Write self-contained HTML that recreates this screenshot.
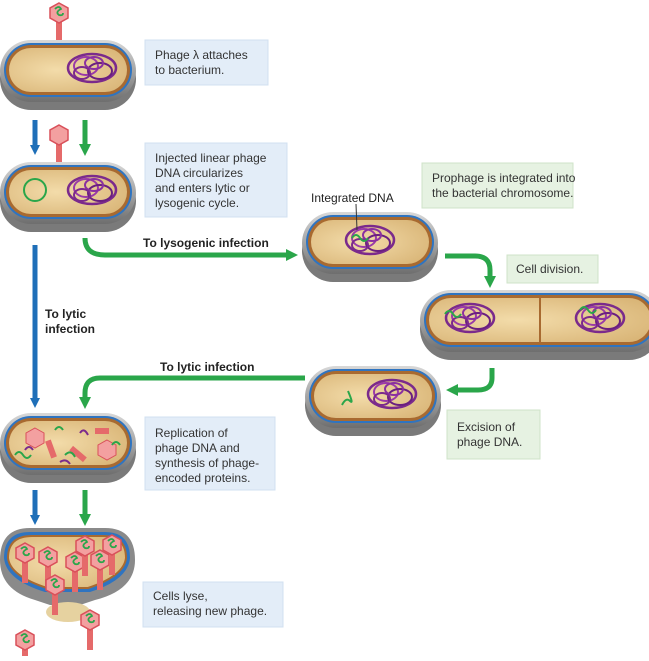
<!DOCTYPE html>
<html><head><style>
body{margin:0;background:#fff;}
.t{font-family:"Liberation Sans",sans-serif;}
</style></head><body>
<svg width="649" height="656" viewBox="0 0 649 656" xmlns="http://www.w3.org/2000/svg">
<defs>
<linearGradient id="gr" x1="0" y1="0" x2="0" y2="1"><stop offset="0" stop-color="#d8d8d8"/><stop offset="0.6" stop-color="#9a9a9a"/><stop offset="1" stop-color="#6e6e6e"/></linearGradient>
<radialGradient id="tan" cx="0.4" cy="0.5" r="0.7"><stop offset="0" stop-color="#f3dcaa"/><stop offset="1" stop-color="#d9b577"/></radialGradient>
<marker id="ab" markerWidth="10" markerHeight="10" refX="5" refY="5" orient="auto" markerUnits="userSpaceOnUse"><path d="M0,0 L10,5 L0,10 z" fill="#1f6fb8"/></marker>
<marker id="ag" markerWidth="12" markerHeight="12" refX="6" refY="6" orient="auto" markerUnits="userSpaceOnUse"><path d="M0,0 L12,6 L0,12 z" fill="#2aa64a"/></marker>
<g id="cell">
<rect x="0" y="8" width="136" height="62" rx="31" fill="#7a7a7a"/>
<rect x="0" y="0" width="136" height="62" rx="31" fill="url(#gr)"/>
<rect x="4" y="3" width="128" height="54" rx="27" fill="#2f74c0"/>
<rect x="6" y="5" width="124" height="50" rx="25" fill="#a86a30"/>
<rect x="9" y="8" width="118" height="44" rx="22" fill="url(#tan)"/>
</g>
<g id="dna">
<ellipse cx="0" cy="0" rx="24" ry="14" fill="none" stroke="#7b2a8c" stroke-width="2.5"/>
<ellipse cx="-6" cy="-2" rx="12" ry="9" fill="none" stroke="#9a3aa8" stroke-width="2"/>
<ellipse cx="8" cy="3" rx="12" ry="8" fill="none" stroke="#6a1f80" stroke-width="2"/>
<ellipse cx="2" cy="-5" rx="9" ry="6" fill="none" stroke="#8a30a0" stroke-width="2"/>
<ellipse cx="-10" cy="5" rx="8" ry="6" fill="none" stroke="#7b2a8c" stroke-width="2"/>
</g>
<g id="phage">
<rect x="-3" y="8" width="6" height="22" fill="#e56a6a"/>
<polygon points="0,-10 9,-5 9,5 0,10 -9,5 -9,-5" fill="#f3a0a0" stroke="#d9505a" stroke-width="1.5"/>
<path d="M-4,-4 q4,-4 6,0 q-6,3 -2,6 q4,1 4,-2" fill="none" stroke="#2aa64a" stroke-width="1.8"/>
</g>
</defs>

<!-- cell 1 -->
<use href="#phage" x="59" y="13"/>
<use href="#cell" x="0" y="40"/>
<use href="#dna" x="92" y="68"/>
<!-- arrows 1 -->
<line x1="35" y1="120" x2="35" y2="150" stroke="#1f6fb8" stroke-width="5" marker-end="url(#ab)"/>
<line x1="85" y1="120" x2="85" y2="150" stroke="#2aa64a" stroke-width="5" marker-end="url(#ag)"/>
<rect x="56" y="135" width="6" height="28" fill="#e56a6a"/>
<polygon points="59,125 68,130 68,140 59,145 50,140 50,130" fill="#f3a0a0" stroke="#d9505a" stroke-width="1.5"/>
<!-- cell 2 -->
<use href="#cell" x="0" y="162"/>
<circle cx="35" cy="190" r="11" fill="none" stroke="#2aa64a" stroke-width="2"/>
<use href="#dna" x="92" y="190"/>
<!-- long blue -->
<line x1="35" y1="245" x2="35" y2="403" stroke="#1f6fb8" stroke-width="5" marker-end="url(#ab)"/>
<text class="t" x="45" y="318" font-size="12" font-weight="bold" fill="#222">To lytic</text>
<text class="t" x="45" y="333" font-size="12" font-weight="bold" fill="#222">infection</text>
<!-- green to lysogenic -->
<path d="M85,238 Q85,255 105,255 L292,255" fill="none" stroke="#2aa64a" stroke-width="5" marker-end="url(#ag)"/>
<text class="t" x="143" y="247" font-size="12" font-weight="bold" fill="#222">To lysogenic infection</text>
<!-- integrated cell -->
<use href="#cell" x="302" y="212"/>
<use href="#dna" x="370" y="240"/>
<path d="M352,238 q4,-6 8,0 q4,6 8,0" fill="none" stroke="#2aa64a" stroke-width="2"/>
<line x1="356" y1="204" x2="357" y2="230" stroke="#333" stroke-width="1"/>
<text class="t" x="311" y="202" font-size="12" fill="#222">Integrated DNA</text>
<!-- green box prophage -->
<rect x="422" y="163" width="151" height="45" fill="#e6f2e2" stroke="#cfe3c8"/>
<text class="t" x="432" y="182" font-size="12" fill="#333">Prophage is integrated into</text>
<text class="t" x="432" y="197" font-size="12" fill="#333">the bacterial chromosome.</text>
<!-- arrow to division -->
<path d="M445,256 L475,256 Q490,256 490,270 L490,282" fill="none" stroke="#2aa64a" stroke-width="5" marker-end="url(#ag)"/>
<rect x="507" y="255" width="91" height="28" fill="#e6f2e2" stroke="#cfe3c8"/>
<text class="t" x="516" y="273" font-size="12" fill="#333">Cell division.</text>
<!-- long cell -->
<rect x="420" y="298" width="240" height="62" rx="31" fill="#7a7a7a"/>
<rect x="420" y="290" width="240" height="62" rx="31" fill="url(#gr)"/>
<rect x="424" y="293" width="232" height="54" rx="27" fill="#2f74c0"/>
<rect x="426" y="295" width="228" height="50" rx="25" fill="#a86a30"/>
<rect x="429" y="298" width="222" height="44" rx="22" fill="url(#tan)"/>
<line x1="540" y1="298" x2="540" y2="342" stroke="#a86a30" stroke-width="2"/>
<use href="#dna" x="470" y="318"/>
<use href="#dna" x="600" y="318"/>
<path d="M445,314 q4,-6 8,0 q4,6 8,0" fill="none" stroke="#2aa64a" stroke-width="2"/>
<path d="M580,310 q4,-6 8,0 q4,6 8,0" fill="none" stroke="#2aa64a" stroke-width="2"/>
<!-- arrow to excision -->
<path d="M492,368 L492,378 Q492,390 478,390 L452,390" fill="none" stroke="#2aa64a" stroke-width="5" marker-end="url(#ag)"/>
<use href="#cell" x="305" y="366"/>
<use href="#dna" x="392" y="394"/>
<path d="M342,405 q4,-8 8,-4 q4,4 -2,-10" fill="none" stroke="#2aa64a" stroke-width="2"/>
<rect x="447" y="410" width="93" height="49" fill="#e6f2e2" stroke="#cfe3c8"/>
<text class="t" x="457" y="431" font-size="12" fill="#333">Excision of</text>
<text class="t" x="457" y="446" font-size="12" fill="#333">phage DNA.</text>
<!-- green back to lytic -->
<path d="M305,378 L100,378 Q85,378 85,393 L85,403" fill="none" stroke="#2aa64a" stroke-width="5" marker-end="url(#ag)"/>
<text class="t" x="160" y="371" font-size="12" font-weight="bold" fill="#222">To lytic infection</text>
<!-- cell 4 replication -->
<use href="#cell" x="0" y="413"/>
<polygon points="35,428 44,433 44,443 35,448 26,443 26,433" fill="#f3a0a0" stroke="#d9505a"/>
<polygon points="107,440 116,445 116,455 107,460 98,455 98,445" fill="#f3a0a0" stroke="#d9505a"/>
<rect x="48" y="440" width="6" height="18" fill="#e56a6a" transform="rotate(-20 51 449)"/>
<rect x="95" y="428" width="14" height="6" fill="#e56a6a"/>
<rect x="75" y="445" width="6" height="18" fill="#e56a6a" transform="rotate(-50 78 454)"/>
<path d="M15,455 q4,-6 8,0 q4,6 8,0 M55,430 q4,-6 8,0 M65,455 q6,-6 10,2 M120,445 q-4,-6 -8,0" fill="none" stroke="#2aa64a" stroke-width="2"/>
<path d="M25,450 q4,-6 8,0 M80,433 q4,-6 8,2 M60,462 q6,-4 10,2" fill="none" stroke="#7b2a8c" stroke-width="2"/>
<rect x="145" y="417" width="130" height="73" fill="#e3edf8" stroke="#d2e0f0"/>
<text class="t" x="155" y="437" font-size="12" fill="#333">Replication of</text>
<text class="t" x="155" y="452" font-size="12" fill="#333">phage DNA and</text>
<text class="t" x="155" y="467" font-size="12" fill="#333">synthesis of phage-</text>
<text class="t" x="155" y="482" font-size="12" fill="#333">encoded proteins.</text>
<line x1="35" y1="490" x2="35" y2="520" stroke="#1f6fb8" stroke-width="5" marker-end="url(#ab)"/>
<line x1="85" y1="490" x2="85" y2="520" stroke="#2aa64a" stroke-width="5" marker-end="url(#ag)"/>
<!-- lysed cell -->
<path d="M0,560 Q0,528 30,528 L105,528 Q135,528 135,560 Q135,590 95,600 L80,605 L50,605 L35,600 Q0,590 0,560 Z" fill="#8a8a8a"/>
<path d="M4,558 Q4,532 30,532 L105,532 Q130,532 130,558 Q128,580 90,592 L45,592 Q6,580 4,558 Z" fill="#2f74c0"/>
<path d="M8,558 Q8,536 32,536 L103,536 Q126,536 126,558 Q124,576 88,588 L47,588 Q10,576 8,558 Z" fill="url(#tan)" stroke="#a86a30" stroke-width="2"/>
<ellipse cx="68" cy="612" rx="22" ry="10" fill="#e6d2a0"/>
<use href="#phage" x="25" y="553"/>
<use href="#phage" x="48" y="557"/>
<use href="#phage" x="75" y="562"/>
<use href="#phage" x="100" y="560"/>
<use href="#phage" x="112" y="545"/>
<use href="#phage" x="85" y="546"/>
<use href="#phage" x="55" y="585"/>
<use href="#phage" x="90" y="620"/>
<use href="#phage" x="25" y="640"/>
<rect x="143" y="582" width="140" height="45" fill="#e3edf8" stroke="#d2e0f0"/>
<text class="t" x="153" y="600" font-size="12" fill="#333">Cells lyse,</text>
<text class="t" x="153" y="615" font-size="12" fill="#333">releasing new phage.</text>
<!-- top boxes -->
<rect x="145" y="40" width="123" height="45" fill="#e3edf8" stroke="#d2e0f0"/>
<text class="t" x="155" y="59" font-size="12" fill="#333">Phage λ attaches</text>
<text class="t" x="155" y="74" font-size="12" fill="#333">to bacterium.</text>
<rect x="145" y="143" width="142" height="74" fill="#e3edf8" stroke="#d2e0f0"/>
<text class="t" x="155" y="162" font-size="12" fill="#333">Injected linear phage</text>
<text class="t" x="155" y="177" font-size="12" fill="#333">DNA circularizes</text>
<text class="t" x="155" y="192" font-size="12" fill="#333">and enters lytic or</text>
<text class="t" x="155" y="207" font-size="12" fill="#333">lysogenic cycle.</text>
</svg>
</body></html>
